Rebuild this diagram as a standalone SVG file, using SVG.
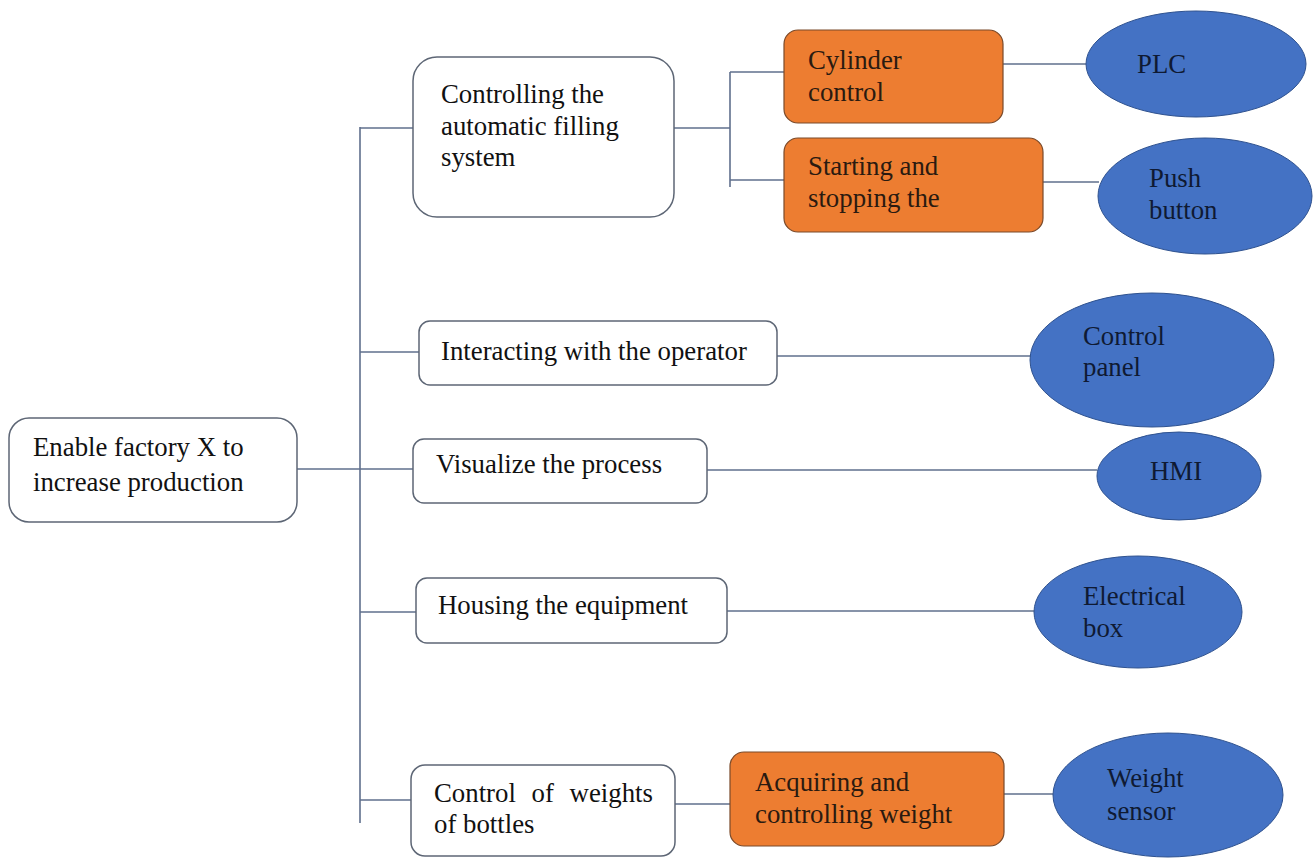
<svg xmlns="http://www.w3.org/2000/svg" width="1315" height="859" viewBox="0 0 1315 859">
<style>
  text { font-family: "Liberation Serif", "Times New Roman", serif; font-size: 26.8px; }
  .wbox { fill: #ffffff; stroke: #5d6675; stroke-width: 1.5; }
  .obox { fill: #ED7D31; stroke: #7a4a2a; stroke-width: 1.2; }
  .ell { fill: #4472C4; stroke: #2F528F; stroke-width: 1; }
  .tw { fill: #111111; }
  .to { fill: #2a1a10; }
  .tb { fill: #0f1a33; }
  .conn { stroke: #5f6f8c; stroke-width: 1.6; fill: none; }
</style>
<rect width="1315" height="859" fill="#ffffff"/>
<g id="connectors">
  <line class="conn" x1="360" y1="127" x2="360" y2="823"/>
  <line class="conn" x1="297" y1="469" x2="413" y2="469"/>
  <line class="conn" x1="360" y1="128" x2="413" y2="128"/>
  <line class="conn" x1="360" y1="352" x2="419" y2="352"/>
  <line class="conn" x1="360" y1="612" x2="416" y2="612"/>
  <line class="conn" x1="360" y1="800" x2="411" y2="800"/>
  <line class="conn" x1="674" y1="128" x2="730" y2="128"/>
  <line class="conn" x1="730" y1="72" x2="730" y2="187"/>
  <line class="conn" x1="730" y1="72" x2="784" y2="72"/>
  <line class="conn" x1="730" y1="180" x2="784" y2="180"/>
  <line class="conn" x1="1003" y1="64" x2="1086" y2="64"/>
  <line class="conn" x1="1043" y1="182" x2="1099" y2="182"/>
  <line class="conn" x1="765" y1="356" x2="1031" y2="356"/>
  <line class="conn" x1="707" y1="470" x2="1097" y2="470"/>
  <line class="conn" x1="727" y1="611" x2="1035" y2="611"/>
  <line class="conn" x1="675" y1="804" x2="730" y2="804"/>
  <line class="conn" x1="1004" y1="794" x2="1053" y2="794"/>
</g>
<g id="root">
  <rect class="wbox" x="9" y="418" width="288" height="104" rx="20"/>
  <text class="tw" x="33" y="456">Enable factory X to</text>
  <text class="tw" x="33" y="491">increase production</text>
</g>
<g id="controlling">
  <rect class="wbox" x="413" y="57" width="261" height="160" rx="24"/>
  <text class="tw" x="441" y="103">Controlling the</text>
  <text class="tw" x="441" y="135">automatic filling</text>
  <text class="tw" x="441" y="166">system</text>
</g>
<g id="interacting">
  <rect class="wbox" x="419" y="321" width="358" height="64" rx="11"/>
  <text class="tw" x="441" y="360">Interacting with the operator</text>
</g>
<g id="visualize">
  <rect class="wbox" x="413" y="439" width="294" height="64" rx="11"/>
  <text class="tw" x="436" y="473">Visualize the process</text>
</g>
<g id="housing">
  <rect class="wbox" x="416" y="578" width="311" height="65" rx="11"/>
  <text class="tw" x="438" y="614">Housing the equipment</text>
</g>
<g id="weights">
  <rect class="wbox" x="411" y="765" width="264" height="91" rx="14"/>
  <text class="tw" x="434" y="802" word-spacing="9">Control of weights</text>
  <text class="tw" x="434" y="833">of bottles</text>
</g>
<g id="cylinder">
  <rect class="obox" x="784" y="30" width="219" height="93" rx="14"/>
  <text class="to" x="808" y="69">Cylinder</text>
  <text class="to" x="808" y="101">control</text>
</g>
<g id="starting">
  <rect class="obox" x="784" y="138" width="259" height="94" rx="14"/>
  <text class="to" x="808" y="175">Starting and</text>
  <text class="to" x="808" y="207">stopping the</text>
</g>
<g id="acquiring">
  <rect class="obox" x="730" y="752" width="274" height="94" rx="14"/>
  <text class="to" x="755" y="791">Acquiring and</text>
  <text class="to" x="755" y="823">controlling weight</text>
</g>
<g id="plc">
  <ellipse class="ell" cx="1196" cy="64" rx="110" ry="53"/>
  <text class="tb" x="1137" y="73">PLC</text>
</g>
<g id="pushbutton">
  <ellipse class="ell" cx="1205" cy="196" rx="107" ry="58"/>
  <text class="tb" x="1149" y="187">Push</text>
  <text class="tb" x="1149" y="219">button</text>
</g>
<g id="controlpanel">
  <ellipse class="ell" cx="1152" cy="360" rx="122" ry="67"/>
  <text class="tb" x="1083" y="345">Control</text>
  <text class="tb" x="1083" y="376">panel</text>
</g>
<g id="hmi">
  <ellipse class="ell" cx="1179" cy="476" rx="82" ry="44"/>
  <text class="tb" x="1150" y="480">HMI</text>
</g>
<g id="electrical">
  <ellipse class="ell" cx="1138" cy="612" rx="104" ry="56"/>
  <text class="tb" x="1083" y="605">Electrical</text>
  <text class="tb" x="1083" y="637">box</text>
</g>
<g id="weightsensor">
  <ellipse class="ell" cx="1168" cy="795" rx="115" ry="62"/>
  <text class="tb" x="1107" y="787">Weight</text>
  <text class="tb" x="1107" y="820">sensor</text>
</g>
</svg>
